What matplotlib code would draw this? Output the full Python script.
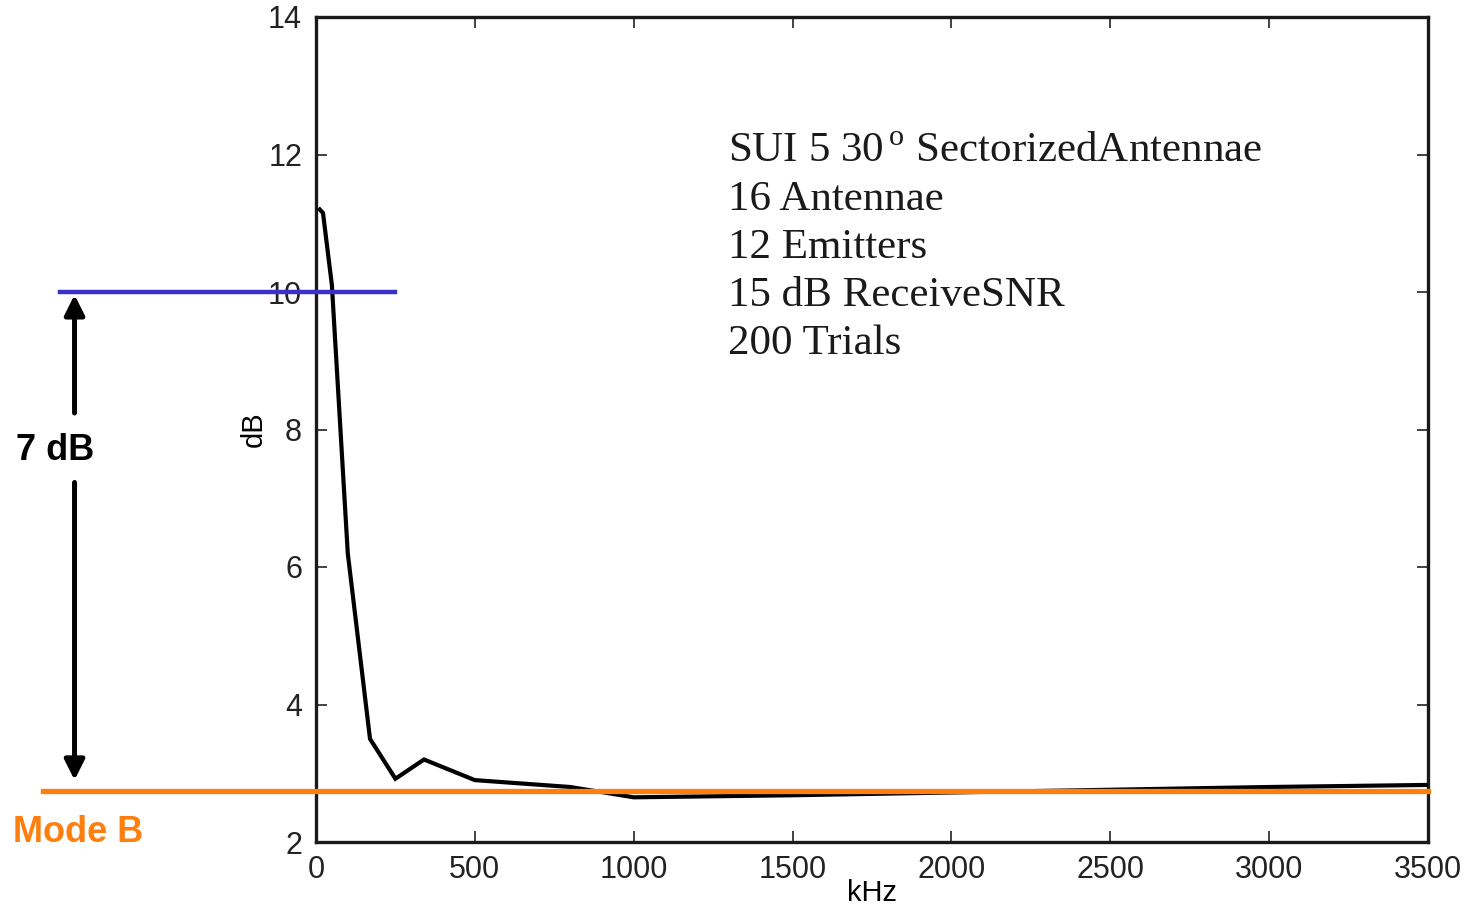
import matplotlib
matplotlib.use("Agg")
import matplotlib.pyplot as plt

# Data
freq_khz = [12, 22, 50, 100, 170, 250, 340, 500, 800, 1000, 1500, 2000, 2500, 3000, 3500]
gain_db = [11.2, 11.15, 10.1, 6.2, 3.5, 2.92, 3.2, 2.9, 2.8, 2.65, 2.68, 2.72, 2.76, 2.8, 2.83]
x_ticks = [0, 500, 1000, 1500, 2000, 2500, 3000, 3500]
y_ticks = [2, 4, 6, 8, 10, 12, 14]
blue_level = 10.0
blue_x = [-806, 249]
mode_b_level = 2.74
mode_b_x = [-860, 3500]
arrow_x = -760
info_lines = [r"SUI 5 30$^{\,\rm o}$ SectorizedAntennae", "16 Antennae", "12 Emitters",
              "15 dB ReceiveSNR", "200 Trials"]

plt.rcParams['mathtext.fontset'] = 'custom'
plt.rcParams['mathtext.rm'] = 'Liberation Serif'
tick_font = ['Liberation Sans', 'DejaVu Sans']

fig = plt.figure(figsize=(14.76, 9.08), dpi=100)
ax = fig.add_axes([316/1476, 66/908, 1112/1476, 825/908])
ax.set_xlim(0, 3500)
ax.set_ylim(2, 14)
ax.set_xticks(x_ticks)
ax.set_yticks(y_ticks)
ax.set_xticklabels([str(t) for t in x_ticks], fontfamily=tick_font, fontsize=22)
ax.set_yticklabels([str(t) for t in y_ticks], fontfamily=tick_font, fontsize=22)
ax.tick_params(axis='x', direction='in', length=8, width=1.2, top=True, pad=9, colors='#222222')
ax.tick_params(axis='y', direction='in', length=8, width=1.2, right=True, pad=10, colors='#222222')
for s in ax.spines.values():
    s.set_linewidth(2.4)
    s.set_color('#1a1a1a')
ax.set_xlabel("kHz", fontfamily=tick_font, fontsize=21, labelpad=-4)
ax.set_ylabel("dB", fontfamily=tick_font, fontsize=21, labelpad=0)

ax.plot(freq_khz, gain_db, color='black', lw=3.0, solid_joinstyle='miter', zorder=3)

ax.plot(blue_x, [blue_level, blue_level], color='#3a32c8', lw=3.2, clip_on=False, zorder=4)
ax.plot(mode_b_x, [mode_b_level, mode_b_level], color='#ff7f0e', lw=3.8, clip_on=False, zorder=4)

# double arrow split by text
ax.annotate("", xy=(arrow_x, blue_level), xytext=(arrow_x, 8.2),
            arrowprops=dict(arrowstyle='-|>', color='black', lw=3.6, mutation_scale=30),
            annotation_clip=False)
ax.annotate("", xy=(arrow_x, 2.86), xytext=(arrow_x, 7.27),
            arrowprops=dict(arrowstyle='-|>', color='black', lw=3.6, mutation_scale=30),
            annotation_clip=False)
fig.text(55/1476, 1 - 451/908, "7 dB", ha='center', va='center', fontsize=26,
         fontweight='bold', fontfamily=['Liberation Sans', 'DejaVu Sans'], color='black')
fig.text(78/1476, 1 - 833/908, "Mode B", ha='center', va='center', fontsize=26,
         fontweight='bold', fontfamily=['Liberation Sans', 'DejaVu Sans'], color='#ff7f0e')

for i, line in enumerate(info_lines):
    fig.text(728/1476, 1 - (152 + 48*i)/908, line, ha='left', va='center', fontsize=31,
             fontfamily=['Liberation Serif', 'DejaVu Serif'], color='#1a1a1a')

fig.savefig("out.png", dpi=100)
